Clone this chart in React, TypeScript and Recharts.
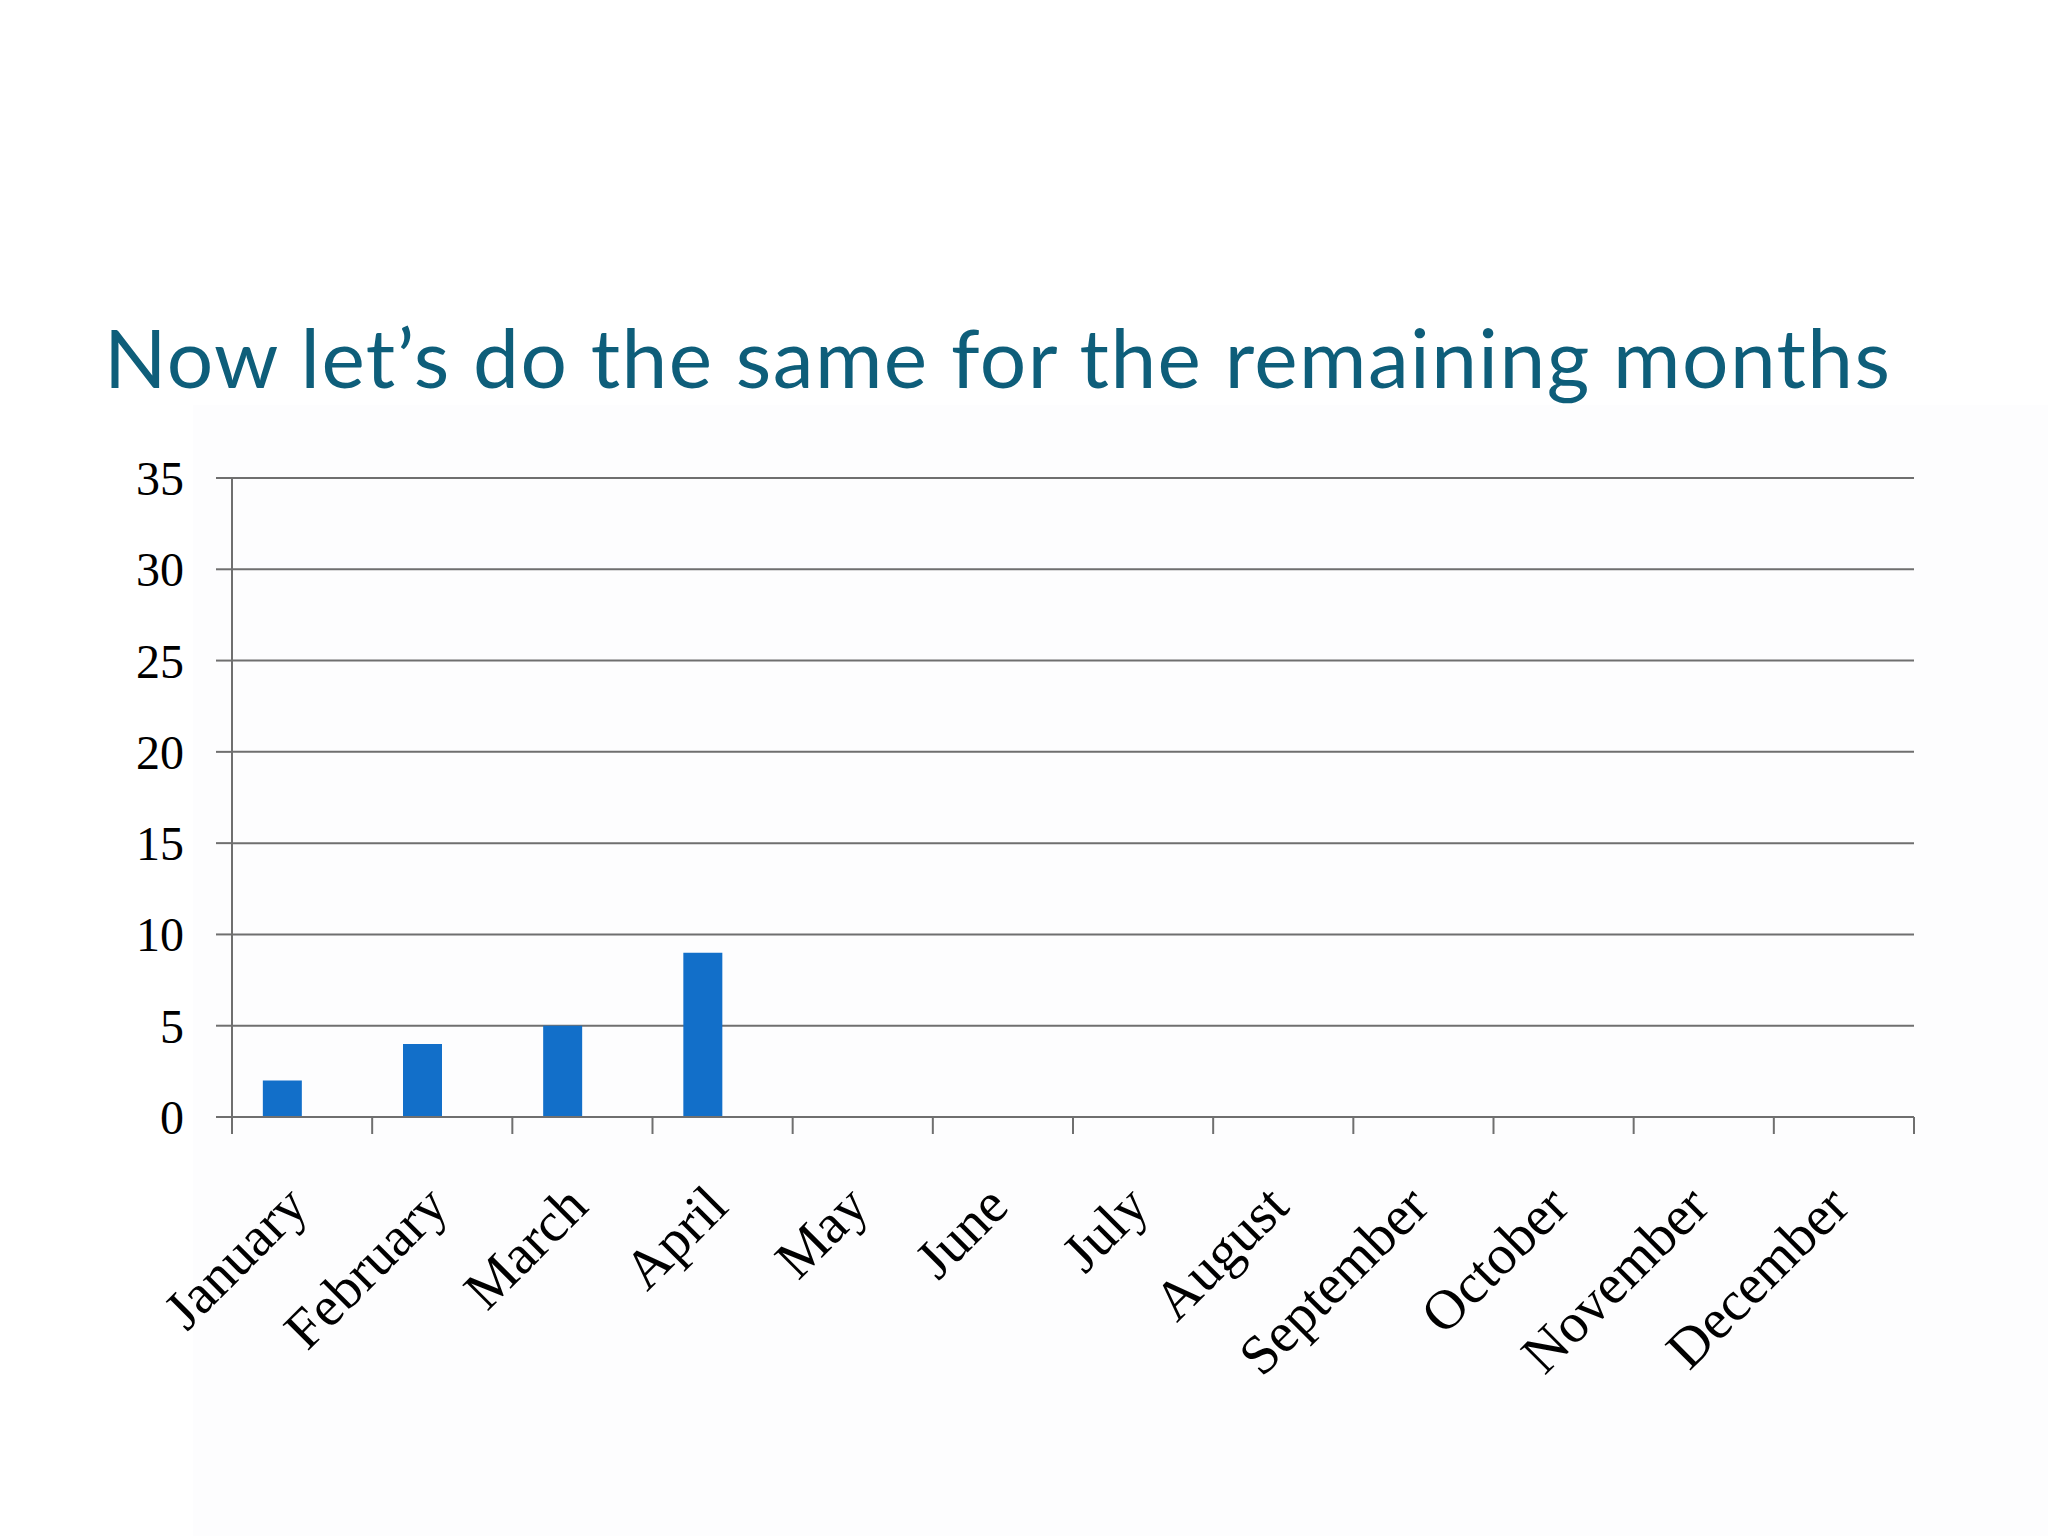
import React from "react";
import { BarChart, Bar, XAxis, YAxis, CartesianGrid } from "recharts";

const months = [
  "January", "February", "March", "April", "May", "June",
  "July", "August", "September", "October", "November", "December",
];
const monthValues: (number | null)[] = [2, 4, 5, 9, null, null, null, null, null, null, null, null];
const remainingValues: (number | null)[] = [null, null, null, null, null, null, null, null, null, null, null, null];
const yTicks = [0, 5, 10, 15, 20, 25, 30, 35];

const titleText = "Now let\u2019s do the same for the remaining months";

const data = months.map((m, i) => ({ month: m, value: monthValues[i], remaining: remainingValues[i] }));

const AXIS = "#6f6f6f";
const SERIF = "'Liberation Serif', 'DejaVu Serif', serif";

const MonthTick = (props: any) => {
  const { x, y, payload, index } = props;
  const off = payload && payload.offset != null ? payload.offset : 70;
  const isLast = index === months.length - 1;
  const tx = x + 8;
  const ty = y + 92;
  return (
    <g>
      <line x1={x - off} y1={y} x2={x - off} y2={y + 17} stroke={AXIS} strokeWidth={2} />
      {isLast && <line x1={x + off} y1={y} x2={x + off} y2={y + 17} stroke={AXIS} strokeWidth={2} />}
      <text
        x={tx}
        y={ty}
        textAnchor="end"
        transform={`rotate(-45, ${tx}, ${ty})`}
        fontFamily={SERIF}
        fontSize={56}
        fill="#000"
      >
        {payload.value}
      </text>
    </g>
  );
};

export default function App() {
  return (
    <div style={{ position: "absolute", left: 0, top: 0, width: 2048, height: 1536, background: "#ffffff", overflow: "hidden" }}>
      <div style={{ position: "absolute", left: 193, top: 405, width: 1855, height: 1131, background: "#fdfdfe" }} />
      <svg width={2048} height={1536} style={{ position: "absolute", left: 0, top: 0 }}>
        <text
          x={104}
          y={388}
          fontFamily="Lato, 'Open Sans', sans-serif"
          fontSize={82}
          fill="#0e5e7a"
          textLength={1786}
          lengthAdjust="spacing"
        >
          {titleText}
        </text>
      </svg>
      <div style={{ position: "absolute", left: 0, top: 0 }}>
        <BarChart
          width={2048}
          height={1536}
          data={data}
          margin={{ top: 478, right: 134, bottom: 0, left: 0 }}
          barGap={0}
          barCategoryGap="22%"
        >
          <CartesianGrid vertical={false} stroke={AXIS} strokeWidth={2} />
          <XAxis
            dataKey="month"
            height={419}
            interval={0}
            tickSize={0}
            tickMargin={0}
            tickLine={false}
            axisLine={{ stroke: AXIS, strokeWidth: 2 }}
            tick={<MonthTick />}
          />
          <YAxis
            width={232}
            domain={[0, 35]}
            ticks={yTicks}
            interval={0}
            tickSize={16}
            tickMargin={32}
            tickLine={{ stroke: AXIS, strokeWidth: 2 }}
            axisLine={{ stroke: AXIS, strokeWidth: 2 }}
            tick={{ fontFamily: SERIF, fontSize: 48, fill: "#000" }}
          />
          <Bar dataKey="value" fill="#126fc9" isAnimationActive={false} />
          <Bar dataKey="remaining" fill="#c0504d" isAnimationActive={false} />
        </BarChart>
      </div>
    </div>
  );
}
